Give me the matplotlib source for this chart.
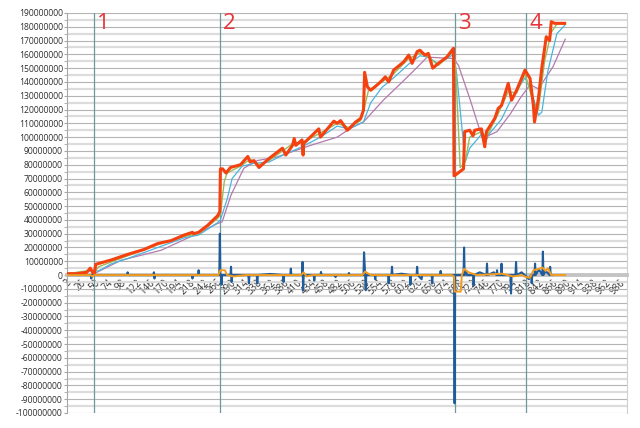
import matplotlib
matplotlib.use("Agg")
import matplotlib.pyplot as plt
from matplotlib.ticker import MultipleLocator, FuncFormatter, FixedLocator, FixedFormatter

UNIT = 1e6  # values below are in millions

# category axis
x_tick_values = list(range(2, 987, 24))
x_first, x_last = 2, 1003
y_min, y_max = -100, 190

# main series (red), (category, value)
price = [(2, 1), (20, 1), (37, 2), (43, 5), (46, 3), (49, 0.5), (50, 0.5), (53, 7.8),
         (81, 11), (110, 15), (139, 18.5), (164, 22.9), (188, 25), (211, 29), (226, 31),
         (228, 30), (237, 31), (253, 36), (271, 43), (275, 46), (276, 77), (280, 77),
         (286, 74), (294, 78), (312, 80), (325, 86), (329, 82), (336, 83), (345, 78),
         (363, 84.5), (387, 92), (393, 87), (405, 94), (408, 99), (411, 94), (422, 98),
         (424, 87), (425, 95.4), (452, 106), (455, 100), (479, 111.6), (485, 110),
         (491, 112), (503, 105), (506, 106), (518, 111), (527, 113.6), (532, 119.6),
         (534, 147), (539, 136.5), (545, 134), (556, 137.7), (565, 141), (571, 143.7),
         (577, 140), (586, 148.6), (604, 154.6), (613, 159.5), (619, 153.5), (628, 162),
         (633, 163), (642, 159.5), (648, 160.7), (656, 150), (666, 153.5), (681, 158),
         (693, 164.4), (694, 72), (696, 72.4), (711, 77), (713, 104), (722, 105),
         (728, 101), (731, 105), (743, 106), (749, 93), (752, 104), (767, 113.6),
         (773, 120.8), (779, 123), (791, 139), (797, 126.8), (806, 134), (821, 148.6),
         (830, 142.6), (836, 123), (838, 111), (845, 128), (851, 150), (856, 164),
         (859, 172.8), (865, 170), (868, 183.7), (874, 182.5), (892, 182.5)]

# short average (green)
avg_short = [(2, 1), (44, 3.5), (50, 2), (58, 6), (110, 14), (164, 22), (211, 28),
             (237, 30), (271, 41), (276, 44), (283, 68), (288, 74), (312, 79), (329, 84),
             (345, 80), (363, 83), (387, 90), (408, 96), (422, 96), (455, 103), (485, 110),
             (506, 107), (527, 112), (534, 122), (541, 134), (565, 140), (586, 146),
             (613, 157), (633, 161), (648, 158), (666, 152), (693, 162), (697, 150),
             (705, 78), (714, 82), (722, 100), (743, 104), (752, 100), (773, 117),
             (791, 133), (806, 132), (821, 146), (836, 125), (845, 120), (856, 155),
             (868, 176), (878, 182), (892, 182)]

# medium average (light blue)
avg_mid = [(2, 1), (45, 3), (58, 3), (80, 8), (110, 12), (164, 20), (211, 27), (237, 29),
           (271, 38), (276, 40), (288, 55), (297, 70), (315, 79), (336, 81), (363, 82),
           (393, 88), (422, 93), (455, 100), (485, 108), (506, 106), (532, 111), (545, 125),
           (565, 136), (586, 143), (613, 153), (633, 159), (648, 158), (666, 153),
           (693, 160), (699, 145), (714, 82), (722, 92), (743, 102), (752, 100), (779, 113),
           (797, 128), (821, 143), (831, 135), (845, 116), (851, 118), (862, 148),
           (878, 175), (892, 181)]

# long average (purple)
avg_long = [(50, 1), (98, 10.7), (170, 18), (229, 29), (271, 37.4), (279, 38.5), (295, 58),
            (318, 77.5), (342, 83), (378, 85.7), (437, 94), (485, 100), (509, 106.5),
            (532, 111), (568, 127), (604, 141), (629, 151), (646, 158), (693, 157),
            (702, 152), (723, 127), (744, 100), (750, 96), (755, 101), (771, 104),
            (795, 117), (812, 128), (830, 138), (845, 135), (871, 151), (893, 171)]

# change series (dark blue)
change = [(2, 0), (44, 0), (45, -2.5), (46, 0), (109, 0), (110, 2), (111, 0), (156, 0),
          (157, 2), (158, -2.5), (159, 0), (225, 0), (226, -2.5), (227, 0), (236, 0),
          (237, 3.5), (238, 0), (274, 0), (275, 30), (276, 0), (277, 0), (278, -7),
          (279, 0), (294, 0), (295, 6), (296, -5), (297, 0), (326, 0), (327, -6), (328, 0),
          (341, 0), (342, -6), (343, 0), (365, 0.8), (388, 0), (389, -5), (390, 0),
          (401, 0), (402, 4.7), (403, 0), (422, 0), (423, 9.5), (424, -11), (425, 0),
          (443, 0), (444, -4), (445, 0), (455, 0), (456, 2.3), (457, 0), (481, 0),
          (482, -1.5), (483, 0), (505, 0), (506, 1.5), (507, 0), (532, 0), (533, 16.5),
          (535, 0), (536, -11), (537, 0), (552, 0), (553, -3), (554, 0), (576, 0),
          (577, -6), (578, 0), (582, 0), (583, 6), (584, 0), (600, 1), (615, 0),
          (616, -7), (617, 0), (627, 0), (628, 6), (629, 0), (636, -3), (637, 0),
          (654, 0), (655, -6), (656, 0), (669, 0), (670, 3), (671, 0), (694, 0),
          (695, -93), (696, 0), (711, 0), (712, 20), (713, 0), (716, 3), (717, 0),
          (728, 0), (729, -7.4), (730, 0), (740, 2), (752, 0), (753, 8.3), (754, 0),
          (765, 2), (770, 0), (771, 3.5), (772, 0), (778, 0), (779, 8.3), (780, 0),
          (795, 0), (796, -13.4), (797, 0), (804, 0), (805, 9.5), (806, 0), (815, 2),
          (828, -3), (832, 0), (833, -6), (834, 0), (838, 0), (839, 8.3), (840, 0),
          (846, 4), (852, 0), (853, 17), (854, 0), (858, 3), (865, 0), (866, 6),
          (867, 0), (871, 0)]

# smoothed change (orange)
change_avg = [(2, 0), (44, 0), (47, -1), (50, 0), (272, 0), (276, 3.5), (284, 3.5),
              (288, 0), (300, -1), (320, 0), (420, 0), (425, 2), (430, -1), (440, 0),
              (530, 0), (535, 2.5), (545, 0), (690, 0), (694, -1), (695, -12), (706, -12),
              (708, 0), (712, 4.5), (720, 2), (735, 0), (780, 1), (800, -1), (815, 0),
              (823, -1.5), (830, -2), (836, 3.5), (846, 4.5), (852, 5.5), (858, 3),
              (862, 5), (868, 0), (893, 0)]

# event markers
event_x = [50, 275, 695, 823]
event_labels = ["1", "2", "3", "4"]

plt.rcParams['font.family'] = ['Open Sans', 'DejaVu Sans']

fig = plt.figure(figsize=(6.4, 4.28), dpi=100)
ax = fig.add_axes([67 / 640, 1 - 413 / 428, (627 - 67) / 640, 400 / 428])


def xy(pairs):
    xs = [p[0] for p in pairs]
    ys = [p[1] * UNIT for p in pairs]
    return xs, ys


# spines first (set_position resets tick settings)
ax.spines['bottom'].set_position(('data', 0))
ax.spines['bottom'].set_color('#C4C4C4')
ax.spines['bottom'].set_linewidth(2.8)
ax.spines['left'].set_color('#A6A6A6')
ax.spines['left'].set_linewidth(0.8)
ax.spines['right'].set_color('#D0D0D0')
ax.spines['right'].set_linewidth(0.8)
ax.spines['top'].set_visible(False)

ax.set_xlim(x_first - 0.5, x_last + 0.5)
ax.set_ylim(y_min * UNIT, y_max * UNIT)

ax.yaxis.set_major_locator(MultipleLocator(10 * UNIT))
ax.yaxis.set_minor_locator(MultipleLocator(5 * UNIT))
ax.yaxis.set_major_formatter(FuncFormatter(lambda v, p: f"{int(round(v))}"))
ax.grid(which='major', axis='y', color='#B4B4B4', lw=0.8, zorder=0)
ax.grid(which='minor', axis='y', color='#DCDCDC', lw=1.6, zorder=0)
ax.set_axisbelow(True)

ax.xaxis.set_major_locator(FixedLocator(x_tick_values))
ax.xaxis.set_major_formatter(FixedFormatter([str(v) for v in x_tick_values]))
ax.tick_params(axis='x', length=0, pad=1.5, labelrotation=45, labelsize=7.0,
               labelcolor='#303030')
ax.tick_params(axis='y', which='both', length=2.2, pad=0.8, color='#A6A6A6',
               labelsize=6.2, labelcolor='#303030')

for ex, lab in zip(event_x, event_labels):
    ax.axvline(ex, color='#6E979F', lw=0.9, zorder=2.6)
    ax.annotate(lab, xy=(ex, y_max * UNIT), xytext=(3, 0), textcoords='offset pixels',
                ha='left', va='top', fontsize=16, color='#E8343A', zorder=6)

ax.plot(*xy(avg_long), color='#B27AAE', lw=0.9, zorder=3)
ax.plot(*xy(avg_mid), color='#4BB4DE', lw=0.9, zorder=3.1)
ax.plot(*xy(avg_short), color='#9BBB59', lw=1.0, zorder=3.2)
ax.plot(*xy(price), color='#F5410F', lw=2.2, zorder=3.5)
ax.plot(*xy(change), color='#1F5C99', lw=1.5, zorder=4)
ax.plot(*xy(change_avg), color='#F39C1E', lw=1.4, zorder=4.5)

fig.savefig('out.png', dpi=100)
